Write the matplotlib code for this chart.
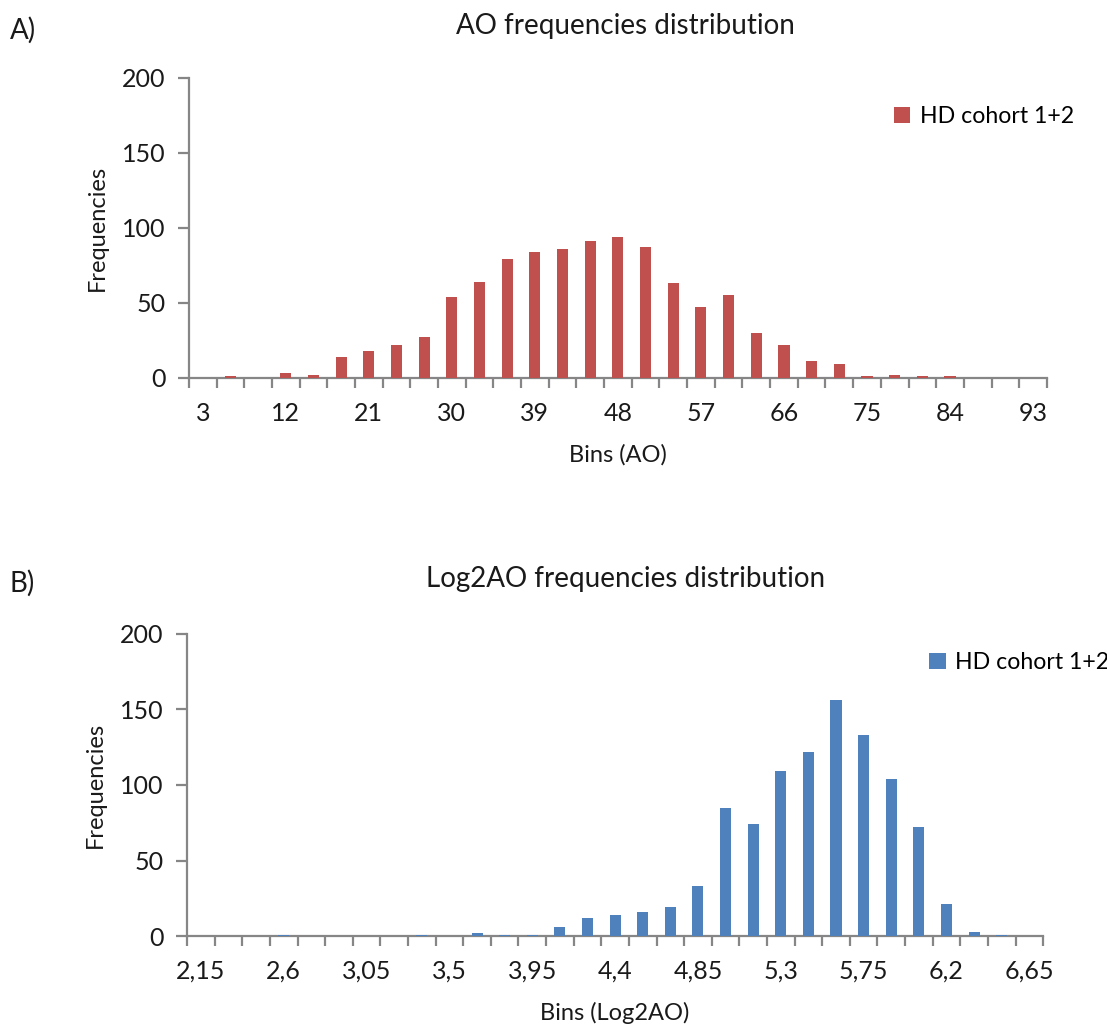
import numpy as np
import matplotlib
matplotlib.use("Agg")
import matplotlib.pyplot as plt
from matplotlib.ticker import FixedLocator, NullFormatter

plt.rcParams["font.family"] = ["Lato", "DejaVu Sans"]

# Panel A: age-at-onset bins (3..93 step 3) and counts
ao_bins = [3, 6, 9, 12, 15, 18, 21, 24, 27, 30, 33, 36, 39, 42, 45, 48,
           51, 54, 57, 60, 63, 66, 69, 72, 75, 78, 81, 84, 87, 90, 93]
ao_counts = [0, 1, 0, 3, 2, 14, 18, 22, 27, 54, 64, 79, 84, 86, 91, 94,
             87, 63, 47, 55, 30, 22, 11, 9, 1, 2, 1, 1, 0, 0, 0]

# Panel B: log2(AO) bins (2.15..6.65 step 0.15) and counts
log_bins = ["2,15", "2,3", "2,45", "2,6", "2,75", "2,9", "3,05", "3,2", "3,35",
            "3,5", "3,65", "3,8", "3,95", "4,1", "4,25", "4,4", "4,55", "4,7",
            "4,85", "5", "5,15", "5,3", "5,45", "5,6", "5,75", "5,9", "6,05",
            "6,2", "6,35", "6,5", "6,65"]
log_counts = [0, 0, 0, 1, 0, 0, 0, 0, 1, 0, 2, 1, 1, 6, 12, 14, 16, 19,
              33, 85, 74, 109, 122, 156, 133, 104, 72, 21, 3, 1, 0]

RED = "#C0504D"
BLUE = "#4F81BD"
AXIS_GREY = "#868686"
TXT = "#1a1a1a"


def draw_panel(ax, labels, counts, color, xlabel, legend_anchor):
    n = len(counts)
    x = np.arange(n)
    ax.bar(x, counts, width=0.4, color=color, edgecolor="none",
           label="HD cohort 1+2", zorder=3)
    ax.set_xlim(-0.5, n - 0.5)
    ax.set_ylim(0, 200)
    ax.set_yticks([0, 50, 100, 150, 200])

    # labels every third bin, tick marks on bin boundaries
    ax.set_xticks(x[::3])
    ax.set_xticklabels([str(l) for l in labels[::3]])
    ax.xaxis.set_minor_locator(FixedLocator(np.arange(-0.5, n, 1.0)))
    ax.xaxis.set_minor_formatter(NullFormatter())
    ax.tick_params(axis="x", which="major", length=0, pad=17,
                   labelsize=18, labelcolor=TXT)
    ax.tick_params(axis="x", which="minor", length=7, width=1.6,
                   color=AXIS_GREY, direction="out")
    ax.tick_params(axis="y", length=8, width=1.6, color=AXIS_GREY,
                   labelsize=18, labelcolor=TXT, pad=9)

    for side in ("top", "right"):
        ax.spines[side].set_visible(False)
    for side in ("left", "bottom"):
        ax.spines[side].set_color(AXIS_GREY)
        ax.spines[side].set_linewidth(1.6)

    ax.set_xlabel(xlabel, fontsize=17, color=TXT, labelpad=14)
    ax.set_ylabel("Frequencies", fontsize=17, color=TXT, labelpad=10)
    ax.legend(loc="center left", bbox_to_anchor=legend_anchor, frameon=False,
              fontsize=16.7, handlelength=0.7, handleheight=0.7,
              handletextpad=0.4, borderaxespad=0, borderpad=0)


fig = plt.figure(figsize=(11.07, 10.24), dpi=100)

ax_a = fig.add_axes([0.1707, 0.6309, 0.775, 0.293])
draw_panel(ax_a, ao_bins, ao_counts, RED, "Bins (AO)", (0.822, 0.87))

ax_b = fig.add_axes([0.169, 0.0859, 0.7733, 0.295])
draw_panel(ax_b, log_bins, log_counts, BLUE, "Bins (Log2AO)", (0.867, 0.905))

fig.text(0.565, 0.975, "AO frequencies distribution", ha="center",
         va="center", fontsize=20, color=TXT)
fig.text(0.565, 0.435, "Log2AO frequencies distribution", ha="center",
         va="center", fontsize=20, color=TXT)
fig.text(0.009, 0.97, "A)", fontsize=20, color=TXT, va="center")
fig.text(0.009, 0.43, "B)", fontsize=20, color=TXT, va="center")

fig.savefig("out.png", dpi=100)
